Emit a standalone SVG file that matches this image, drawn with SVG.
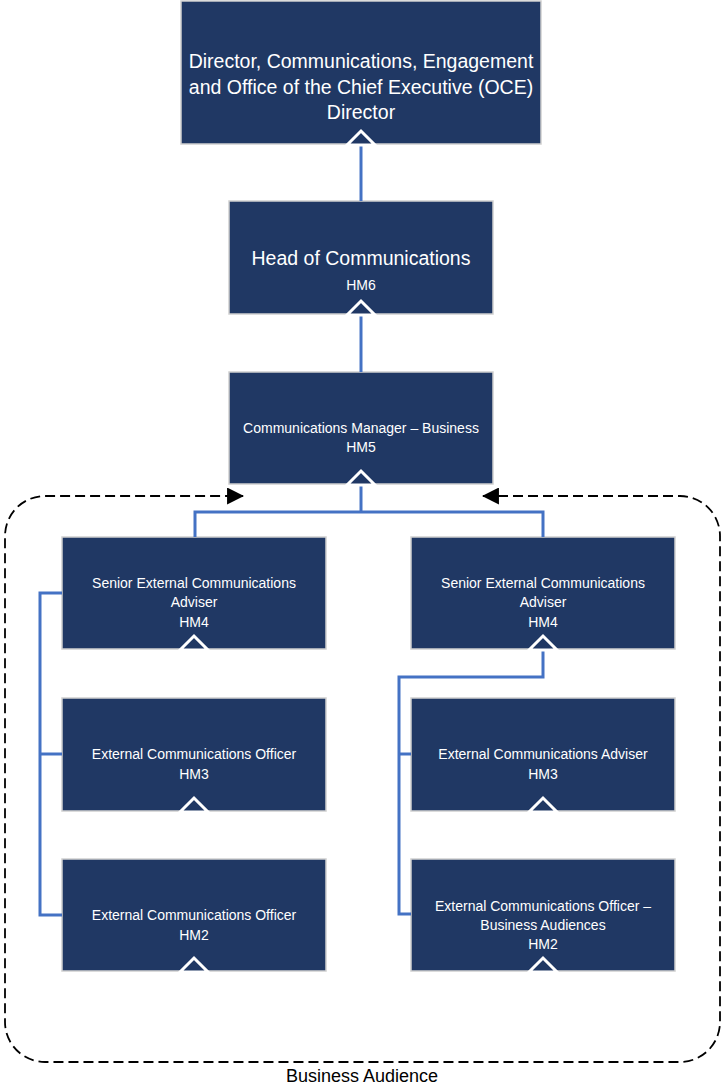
<svg xmlns="http://www.w3.org/2000/svg" width="723" height="1087" viewBox="0 0 723 1087">
<style>
.box{fill:#203864;stroke:#D0D0D0;stroke-width:1.5}
.t{fill:#FFFFFF;font-family:"Liberation Sans",Arial,sans-serif;text-anchor:middle}
.s{font-size:14px}
.l{font-size:19.5px}
.c{fill:none;stroke:#4472C4;stroke-width:3}
.chev{fill:#203864;stroke:#FFFFFF;stroke-width:3;stroke-linejoin:miter}
.dash{fill:none;stroke:#000;stroke-width:1.8;stroke-dasharray:10 5}
.cap{fill:#000;font-family:"Liberation Sans",Arial,sans-serif;font-size:18px;text-anchor:middle}
</style>
<defs>
<marker id="ah" markerUnits="userSpaceOnUse" markerWidth="17" markerHeight="17" refX="15" refY="8" orient="auto-start-reverse" viewBox="0 0 16 16">
<path d="M0,0 L16,8 L0,16 z" fill="#000"/>
</marker>
</defs>
<rect width="723" height="1087" fill="#FFFFFF"/>
<g id="group-business-audience">
<path class="dash" d="M483,496 L680,496 A40,40 0 0 1 720,536 L720,1022 A40,40 0 0 1 680,1062 L45,1062 A40,40 0 0 1 5,1022 L5,536 A40,40 0 0 1 45,496 L243,496" marker-start="url(#ah)" marker-end="url(#ah)"/>
<text class="cap" x="362" y="1082">Business Audience</text>
</g>
<g id="node-director">
<rect class="box" x="181" y="1" width="360" height="143"/>
<text class="t l" x="361" y="68">Director, Communications, Engagement</text>
<text class="t l" x="361" y="94">and Office of the Chief Executive (OCE)</text>
<text class="t l" x="361" y="119">Director</text>
</g>
<g id="node-head">
<rect class="box" x="229" y="201" width="264" height="113"/>
<text class="t l" x="361" y="265">Head of Communications</text>
<text class="t s" x="361" y="290">HM6</text>
</g>
<g id="node-manager">
<rect class="box" x="229" y="372" width="264" height="112"/>
<text class="t s" x="361" y="433">Communications Manager – Business</text>
<text class="t s" x="361" y="452">HM5</text>
</g>
<g id="node-seca-left">
<rect class="box" x="62" y="537" width="264" height="112"/>
<text class="t s" x="194" y="588">Senior External Communications</text>
<text class="t s" x="194" y="607">Adviser</text>
<text class="t s" x="194" y="627">HM4</text>
</g>
<g id="node-seca-right">
<rect class="box" x="411" y="537" width="264" height="112"/>
<text class="t s" x="543" y="588">Senior External Communications</text>
<text class="t s" x="543" y="607">Adviser</text>
<text class="t s" x="543" y="627">HM4</text>
</g>
<g id="node-eco-hm3">
<rect class="box" x="62" y="698" width="264" height="113"/>
<text class="t s" x="194" y="759">External Communications Officer</text>
<text class="t s" x="194" y="779">HM3</text>
</g>
<g id="node-eca-hm3">
<rect class="box" x="411" y="698" width="264" height="113"/>
<text class="t s" x="543" y="759">External Communications Adviser</text>
<text class="t s" x="543" y="779">HM3</text>
</g>
<g id="node-eco-hm2">
<rect class="box" x="62" y="859" width="264" height="112"/>
<text class="t s" x="194" y="920">External Communications Officer</text>
<text class="t s" x="194" y="940">HM2</text>
</g>
<g id="node-eco-ba-hm2">
<rect class="box" x="411" y="859" width="264" height="112"/>
<text class="t s" x="543" y="911">External Communications Officer –</text>
<text class="t s" x="543" y="930">Business Audiences</text>
<text class="t s" x="543" y="949">HM2</text>
</g>
<g id="connectors">
<line class="c" x1="361" y1="201" x2="361" y2="145"/>
<line class="c" x1="361" y1="372" x2="361" y2="315"/>
<polyline class="c" points="195,537 195,512 543,512 543,537"/>
<line class="c" x1="361" y1="512" x2="361" y2="485"/>
<polyline class="c" points="62,593 40,593 40,915 62,915"/>
<line class="c" x1="40" y1="754" x2="62" y2="754"/>
<polyline class="c" points="543,650 543,677 399,677 399,914 411,914"/>
<line class="c" x1="399" y1="754" x2="411" y2="754"/>
<polygon class="chev" points="347,145 361,131 375,145"/>
<polygon class="chev" points="347,315 361,301 375,315"/>
<polygon class="chev" points="347,485 361,471 375,485"/>
<polygon class="chev" points="180,650 194,636 208,650"/>
<polygon class="chev" points="180,812 194,798 208,812"/>
<polygon class="chev" points="180,972 194,958 208,972"/>
<polygon class="chev" points="529,650 543,636 557,650"/>
<polygon class="chev" points="529,812 543,798 557,812"/>
<polygon class="chev" points="529,972 543,958 557,972"/>
</g>
</svg>
